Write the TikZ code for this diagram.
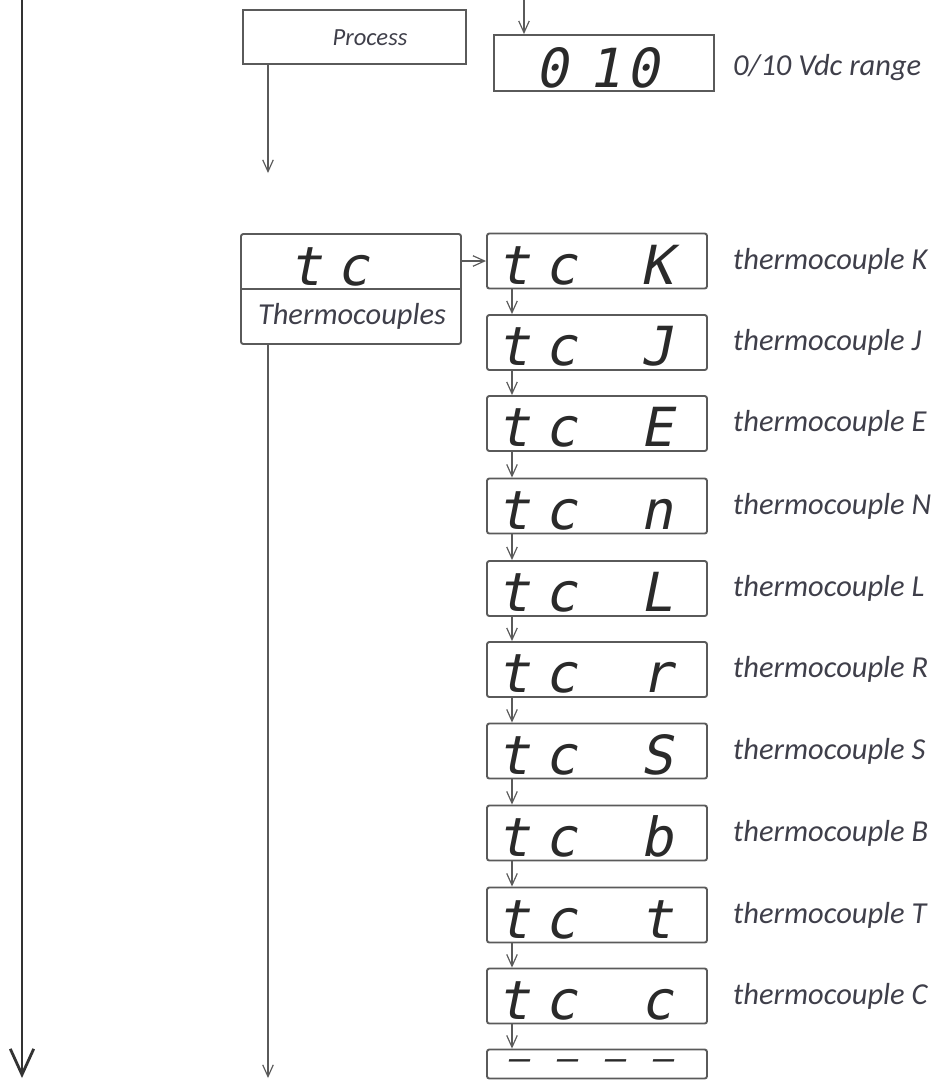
\documentclass[tikz,border=0pt]{standalone}
\usepackage{fontspec}
\setmainfont{Carlito}
\newfontfamily\segfont[FakeSlant=0.2]{DejaVu Sans Mono}
\usetikzlibrary{arrows.meta}
\definecolor{lbl}{HTML}{3F3F4A}
\definecolor{frame}{HTML}{5A5A5A}
\definecolor{segc}{HTML}{2A2A2A}
\newcommand\dsp[4]{\makebox[1.44cm]{#1}\makebox[1.44cm]{#2}\makebox[1.44cm]{#3}\makebox[1.44cm]{#4}}
\begin{document}
\begin{tikzpicture}[x=0.03cm,y=-0.03cm,
  box/.style={draw=frame, line width=1.6pt, rounded corners=2pt, minimum width=6.6cm, minimum height=1.65cm, inner sep=0pt},
  arr/.style={draw=frame, line width=1pt, -{Straight Barb[length=10pt,width=9pt]}},
  bigarr/.style={draw=black!80, line width=2.4pt, -{Straight Barb[length=22pt,width=20pt,line width=2.4pt]}},
  lab/.style={font=\fontsize{26}{31}\selectfont\itshape, text=lbl, inner sep=0pt},
  dig/.style={font=\segfont\fontsize{46}{46}\selectfont, text=segc, inner sep=0pt, anchor=base west}
]
\useasboundingbox (0,0) rectangle (936,1080);
\coordinate (cx) at (512,0);
\coordinate (px) at (268,0);
% left main arrow
\coordinate (ltop) at (22,0);
\coordinate (lbot) at (22,1078);
\draw[bigarr] (ltop) -- (lbot);
% Process
\node[box, minimum width=6.69cm, minimum height=1.62cm, rounded corners=0pt] (proc) at (354.5,37) {};
\node[lab, font=\fontsize{21}{25}\selectfont\itshape] (proct) at (370,38) {Process};
\coordinate (pend) at (268,173);
\draw[arr] (proc.south -| px) -- (pend);
% 010 box
\node[box, minimum height=1.68cm, rounded corners=0pt] (v10) at (604,63) {};
\coordinate (vtop) at (524,0);
\draw[arr] (vtop) -- (v10.north -| vtop);
\node[dig, anchor=base] (d0a) at (552,87) {0};
\node[dig, anchor=base] (d1) at (605,87) {1};
\node[dig, anchor=base] (d0b) at (643,87) {0};
\node[lab, anchor=west] (l10) at (733,68) {0/10 Vdc range};
% tc box
\node[box, minimum height=3.3cm] (tc) at (351,289) {};
\draw[draw=frame, line width=1.6pt] (tc.west) -- (tc.east);
\node[dig] (tct) at (281,285) {\makebox[1.44cm]{t}\makebox[1.44cm]{c}};
\node[lab] (tcl) at (352,316) {Thermocouples};
\coordinate (tcend) at (268,1078);
\draw[arr] (tc.south -| px) -- (tcend);
% display column
\foreach \n/\y/\ch/\lb in {K/261/K/K, J/342.5/J/J, E/423.5/E/E, N/506/n/N, L/588.5/L/L, R/669.5/r/R, S/751/S/S, B/833/b/B, T/915/t/T, C/996/c/C}{
  \node[box] (\n) at (597,\y) {};
  \node[dig] (\n t) at (489,\y+23) {\dsp{t}{c}{}{\ch}};
  \node[lab, anchor=west] (\n l) at (733,\y) {thermocouple \lb};
}
\node[box, minimum height=0.87cm] (D) at (597,1064) {};
\node[dig, font=\segfont\fontsize{30}{30}\selectfont] (Dt) at (494,1070) {\dsp{–}{–}{–}{–}};
\draw[arr] (tc.east |- K.west) -- (K.west);
\foreach \a/\b in {K/J, J/E, E/N, N/L, L/R, R/S, S/B, B/T, T/C, C/D}{
  \draw[arr] (\a.south -| cx) -- (\b.north -| cx);
}
\end{tikzpicture}
\end{document}
